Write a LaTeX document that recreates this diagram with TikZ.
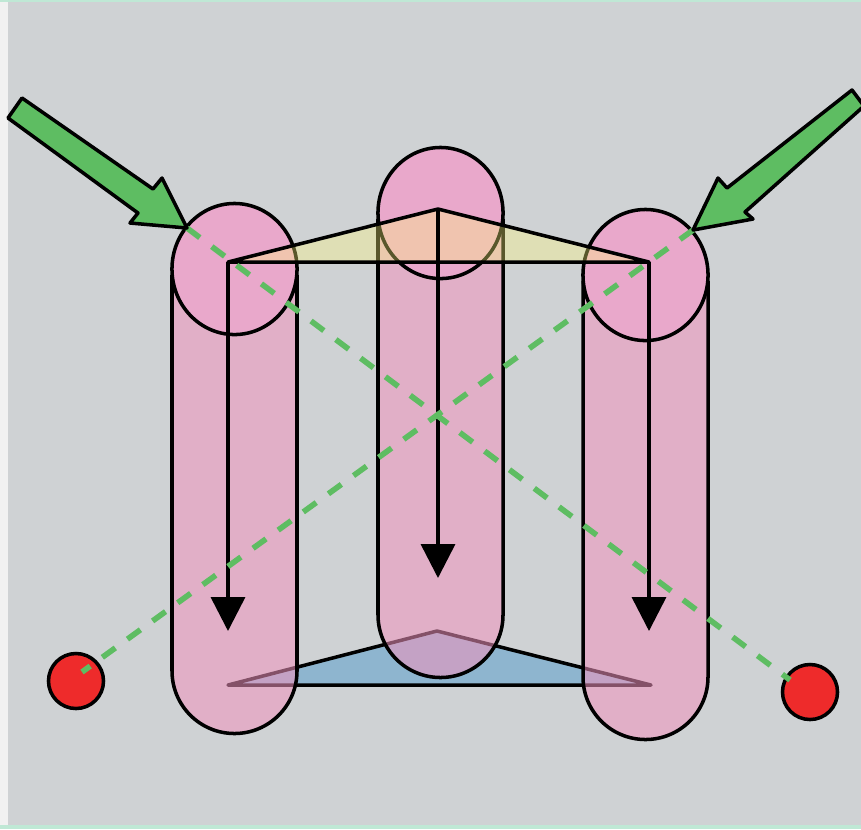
\documentclass[tikz,border=0pt]{standalone}
\usetikzlibrary{arrows.meta,shapes.geometric}
\definecolor{panelgray}{HTML}{CFD2D4}
\definecolor{edgewhite}{HTML}{F1F1F1}
\definecolor{edgemint}{HTML}{BFE8D5}
\definecolor{rodpink}{HTML}{F194BE}
\definecolor{headpink}{HTML}{E9A8CB}
\definecolor{planeyellow}{HTML}{FFFA7C}
\definecolor{planeblue}{HTML}{8EB5CF}
\definecolor{beamgreen}{HTML}{5EBD62}
\definecolor{spotred}{HTML}{EE2B2B}

\begin{document}
\begin{tikzpicture}[
  x=0.01cm,y=-0.01cm,
  rod/.style={draw=black,line width=1pt,fill=rodpink,fill opacity=.55},
  head/.style={ellipse,draw=black,line width=1pt,fill=headpink,minimum width=1.25cm,minimum height=1.31cm,inner sep=0pt},
  spot/.style={circle,draw=black,line width=1pt,fill=spotred,minimum size=.55cm,inner sep=0pt},
  plane/.style={draw=black,line width=1pt,line join=round},
  beam/.style={draw=black,line width=1pt,fill=beamgreen,line join=round},
  ray/.style={beamgreen,line width=1.6pt,dash pattern=on 16*0.01cm off 15*0.01cm},
  axis/.style={draw=black,line width=1pt,-{Triangle[length=.34cm,width=.34cm]}}
]
  \useasboundingbox (0,0) rectangle (861,829);
  \fill[edgewhite] (0,0) rectangle (861,829);
  \fill[panelgray] (8,2) rectangle (861,825);
  \fill[edgemint] (0,0) rectangle (861,2);
  \fill[edgemint] (0,825) rectangle (861,829);

  \coordinate (topleft) at (228,262);
  \coordinate (topmid) at (438,209);
  \coordinate (topright) at (649,262);
  \coordinate (lowleft) at (228,685);
  \coordinate (lowmid) at (437,631);
  \coordinate (lowright) at (651,685);
  \coordinate (tipleft) at (228,631);
  \coordinate (tipmid) at (438,578);
  \coordinate (tipright) at (649,631);
  \coordinate (beamleft) at (187,228);
  \coordinate (beamright) at (693,230);
  \coordinate (rayleft) at (82,672);
  \coordinate (rayright) at (790,680);

  % lower plane sits behind the rods
  \draw[plane,fill=planeblue] (lowleft) -- (lowmid) -- (lowright) -- cycle;

  \draw[rod] (172,275) -- (172,671) arc[start angle=180,end angle=0,radius=62.5] -- (297,275);
  \draw[rod] (378,219) -- (378,615) arc[start angle=180,end angle=0,radius=62.5] -- (503,219);
  \draw[rod] (583,281) -- (583,677) arc[start angle=180,end angle=0,radius=62.5] -- (708,281);

  \node[head] (headleft) at (234.5,269) {};
  \node[head] (headmid) at (440.5,213) {};
  \node[head] (headright) at (645.5,275) {};

  % upper plane is see-through
  \draw[plane,fill=planeyellow,fill opacity=.35] (topleft) -- (topmid) -- (topright) -- cycle;

  \draw[axis] (topleft) -- (tipleft);
  \draw[axis] (topmid) -- (tipmid);
  \draw[axis] (topright) -- (tipright);

  \node[spot] (spotleft) at (76,681) {};
  \node[spot] (spotright) at (810,692) {};

  \draw[ray] (beamleft) -- (rayright);
  \draw[ray] (beamright) -- (rayleft);

  \draw[beam] (22,98) -- (8,118) -- (138,213) -- (130,223) -- (beamleft) -- (162,178) -- (153,189) -- cycle;
  \draw[beam] (852,90) -- (864,106) -- (745,212) -- (753,219) -- (beamright) -- (718,178) -- (727,188) -- cycle;
\end{tikzpicture}
\end{document}
